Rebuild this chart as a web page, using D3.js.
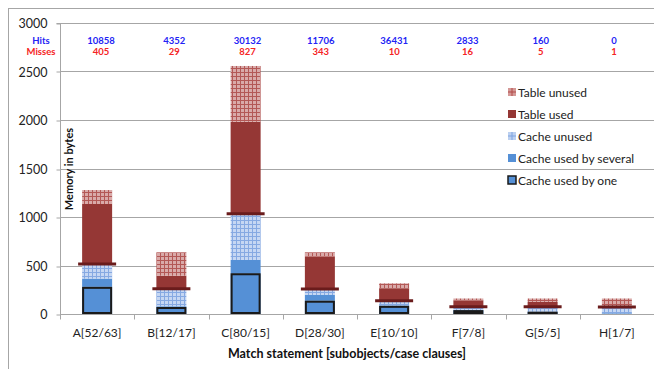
<!DOCTYPE html>
<html>
<head>
<meta charset="utf-8">
<script src="https://cdn.jsdelivr.net/npm/d3@7"></script>
<style>
  html, body { margin: 0; padding: 0; background: #fff; }
  svg { display: block; font-family: Lato, "Open Sans", sans-serif; }
</style>
</head>
<body>
<svg id="chart" width="654" height="369"></svg>
<script>
// Match statements and their memory breakdown (bytes, per stacked layer)
const categories = ["A[52/63]", "B[12/17]", "C[80/15]", "D[28/30]", "E[10/10]", "F[7/8]", "G[5/5]", "H[1/7]"];
const cacheUsedByOne     = [280, 72, 420, 137, 84, 40, 24, 8];
const cacheUsedBySeveral = [85, 8, 137, 59, 6, 0, 0, 0];
const cacheUnused        = [150, 181, 476, 62, 47, 35, 51, 64];
const tableUsed          = [619, 134, 949, 333, 128, 65, 50, 0];
const tableUnused        = [144, 241, 575, 45, 51, 20, 35, 88];
const hits   = [10858, 4352, 30132, 11706, 36431, 2833, 160, 0];
const misses = [405, 29, 827, 343, 10, 16, 5, 1];
const yTicks = [0, 500, 1000, 1500, 2000, 2500, 3000];

const seriesKeys = ["one", "several", "cacheUnused", "tableUsed", "tableUnused"];
const seriesNames = {
  one: "Cache used by one",
  several: "Cache used by several",
  cacheUnused: "Cache unused",
  tableUsed: "Table used",
  tableUnused: "Table unused"
};
const rows = categories.map((c, i) => ({
  cat: c,
  one: cacheUsedByOne[i],
  several: cacheUsedBySeveral[i],
  cacheUnused: cacheUnused[i],
  tableUsed: tableUsed[i],
  tableUnused: tableUnused[i]
}));

const svg = d3.select("#chart");
const W = 654, H = 369;
const m = { left: 60, right: 0, top: 23, bottom: 55 };

// outer chart frame
svg.append("rect").attr("x", 8.5).attr("y", 8.5).attr("width", 700).attr("height", 400)
  .attr("fill", "none").attr("stroke", "#a6a6a6").attr("stroke-width", 1);

// hatch patterns
const defs = svg.append("defs");
function grid(id, bg, line) {
  const p = defs.append("pattern").attr("id", id).attr("patternUnits", "userSpaceOnUse")
    .attr("width", 4).attr("height", 4);
  p.append("rect").attr("width", 4).attr("height", 4).attr("fill", bg);
  p.append("path").attr("d", "M0,0.5H4M0.5,0V4").attr("stroke", line).attr("stroke-width", 1);
}
grid("hatchTable", "#d9aaa9", "#b35856");
grid("hatchCache", "#c6d7f3", "#86a9e2");
function legendCross(id, bg, line) {
  const p = defs.append("pattern").attr("id", id).attr("patternUnits", "objectBoundingBox")
    .attr("width", 1).attr("height", 1);
  p.append("rect").attr("width", 8).attr("height", 8).attr("fill", bg);
  p.append("path").attr("d", "M0,4H8M4,0V8").attr("stroke", line).attr("stroke-width", 1);
}
legendCross("legTable", "#d49896", "#b24c4a");
legendCross("legCache", "#bcd0f0", "#7ea4e0");

const fills = {
  one: "#5590d6",
  several: "#5590d6",
  cacheUnused: "url(#hatchCache)",
  tableUsed: "#953735",
  tableUnused: "url(#hatchTable)"
};
const legendFills = {
  one: "#5590d6",
  several: "#5590d6",
  cacheUnused: "url(#legCache)",
  tableUsed: "#953735",
  tableUnused: "url(#legTable)"
};

const x = d3.scaleBand().domain(categories).range([m.left, W - m.right]).paddingInner(0).paddingOuter(0);
const y = d3.scaleLinear().domain([0, 3000]).range([314, m.top]);

// gridlines
svg.append("g").selectAll("line").data(yTicks.filter(d => d > 0)).join("line")
  .attr("x1", m.left).attr("x2", W)
  .attr("y1", d => Math.round(y(d)) + 0.5).attr("y2", d => Math.round(y(d)) + 0.5)
  .attr("stroke", "#a6a6a6").attr("stroke-width", 1);

// y axis
const yAxis = svg.append("g").attr("transform", `translate(${m.left + 0.5},0.5)`)
  .call(d3.axisLeft(y).tickValues(yTicks).tickSize(4).tickPadding(9).tickFormat(d3.format("d")));
yAxis.select(".domain").attr("stroke", "#a6a6a6").attr("d", `M-4,${Math.round(y(3000))}H0V${Math.round(y(0))}`);
yAxis.selectAll(".tick line").attr("stroke", "#a6a6a6");
yAxis.selectAll(".tick line").attr("transform", d => `translate(0,${Math.round(y(d)) - y(d)})`);
yAxis.selectAll(".tick text").attr("font-size", 12.5).attr("fill", "#222").attr("font-family", "Lato, sans-serif");

// x axis
const xAxis = svg.append("g").attr("transform", `translate(0,${Math.round(y(0)) + 0.5})`);
xAxis.append("line").attr("x1", m.left).attr("x2", W).attr("stroke", "#a6a6a6");
xAxis.selectAll("line.tk").data(d3.range(categories.length + 1)).join("line").attr("class", "tk")
  .attr("x1", i => Math.round(m.left + i * x.bandwidth()) + 0.5)
  .attr("x2", i => Math.round(m.left + i * x.bandwidth()) + 0.5)
  .attr("y1", 0).attr("y2", 5).attr("stroke", "#a6a6a6");
xAxis.selectAll("text").data(categories).join("text")
  .attr("x", d => x(d) + x.bandwidth() / 2).attr("y", 22)
  .attr("text-anchor", "middle").attr("font-size", 12).attr("fill", "#222").text(d => d);

// stacked bars
const stack = d3.stack().keys(seriesKeys)(rows);
const barW = 30;
const layers = svg.append("g").selectAll("g").data(stack).join("g")
  .attr("fill", d => fills[d.key]);
layers.selectAll("rect").data(d => d.map(v => ({ key: d.key, v }))).join("rect")
  .attr("x", d => x(d.v.data.cat) + x.bandwidth() / 2 - barW / 2)
  .attr("width", barW)
  .attr("y", d => y(d.v[1]))
  .attr("height", d => Math.max(0, y(d.v[0]) - y(d.v[1])));

// "cache used by one" outline drawn on top
const oneLayer = stack.find(s => s.key === "one");
svg.append("g").selectAll("rect").data(oneLayer).join("rect")
  .attr("x", d => x(d.data.cat) + x.bandwidth() / 2 - barW / 2 + 1)
  .attr("width", barW - 2)
  .attr("y", d => y(d[1]) + 1)
  .attr("height", d => Math.max(0, y(d[0]) - y(d[1]) - 2))
  .attr("fill", "none").attr("stroke", "#1a1a1a").attr("stroke-width", 2);

// cache-total marker
const cacheTop = stack.find(s => s.key === "cacheUnused");
svg.append("g").selectAll("line").data(cacheTop).join("line")
  .attr("x1", d => x(d.data.cat) + x.bandwidth() / 2 - 19)
  .attr("x2", d => x(d.data.cat) + x.bandwidth() / 2 + 19)
  .attr("y1", d => y(d[1])).attr("y2", d => y(d[1]))
  .attr("stroke", "#6a1c1c").attr("stroke-width", 3);

// hits / misses row
const lx = d3.scalePoint().domain(categories).range([101, 614]);
const hm = svg.append("g").attr("font-weight", "bold").attr("font-size", 9.5).attr("text-anchor", "middle");
hm.append("text").attr("x", 41).attr("y", 43.5).attr("fill", "#2323f5").text("Hits");
hm.append("text").attr("x", 41).attr("y", 55).attr("fill", "#f52323").text("Misses");
hm.selectAll("text.h").data(hits).join("text").attr("class", "h")
  .attr("x", (d, i) => lx(categories[i])).attr("y", 43.5).attr("fill", "#2323f5").text(d => d);
hm.selectAll("text.m").data(misses).join("text").attr("class", "m")
  .attr("x", (d, i) => lx(categories[i])).attr("y", 55).attr("fill", "#f52323").text(d => d);

// axis titles
svg.append("text").attr("transform", "translate(73,169) rotate(-90)")
  .attr("text-anchor", "middle").attr("font-weight", "bold").attr("font-size", 11).attr("fill", "#111")
  .text("Memory in bytes");
svg.append("text").attr("x", 347).attr("y", 358)
  .attr("text-anchor", "middle").attr("font-weight", "bold").attr("font-size", 12.5).attr("fill", "#111")
  .text("Match statement [subobjects/case clauses]");

// legend
const legendOrder = ["tableUnused", "tableUsed", "cacheUnused", "several", "one"];
const leg = svg.append("g").selectAll("g").data(legendOrder).join("g")
  .attr("transform", (d, i) => `translate(508,${92 + i * 22})`);
leg.append("rect").attr("x", 0).attr("y", -4).attr("width", 8).attr("height", 8)
  .attr("fill", d => legendFills[d])
  .attr("stroke", d => d === "one" ? "#1a1a1a" : "none").attr("stroke-width", 1.5);
leg.append("text").attr("x", 10).attr("y", 4.5).attr("font-size", 12).attr("fill", "#222")
  .text(d => seriesNames[d]);
</script>
</body>
</html>
